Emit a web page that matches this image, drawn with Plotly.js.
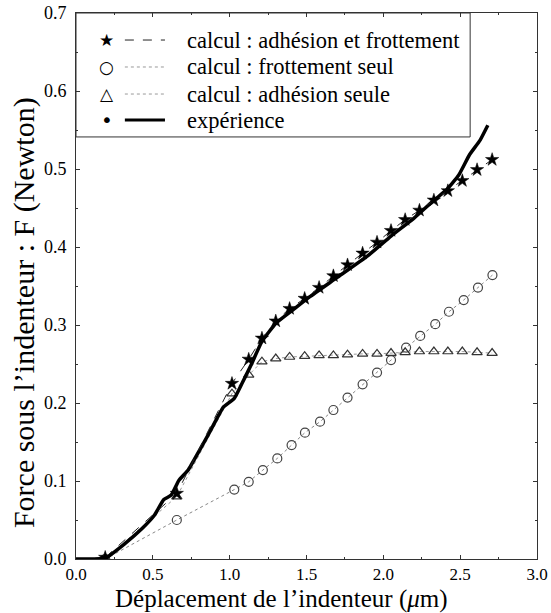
<!DOCTYPE html>
<html>
<head>
<meta charset="utf-8">
<script src="https://cdn.plot.ly/plotly-3.0.1.min.js"></script>
<style>html,body{margin:0;padding:0;background:#fff;}#chart{width:551px;height:613px;}</style>
</head>
<body>
<div id="chart"></div>
<script>
// calcul : adhésion et frottement (stars)
const starX = [0.19, 0.656, 1.015, 1.124, 1.21, 1.30, 1.39, 1.488, 1.582, 1.675, 1.767, 1.865, 1.959, 2.050, 2.142, 2.235, 2.329, 2.420, 2.514, 2.610, 2.708];
const starY = [0.002, 0.084, 0.225, 0.256, 0.283, 0.305, 0.321, 0.334, 0.348, 0.363, 0.377, 0.392, 0.406, 0.421, 0.435, 0.447, 0.460, 0.472, 0.485, 0.499, 0.512];
// calcul : frottement seul (circles)
const circX = [0.19, 0.656, 1.03, 1.124, 1.216, 1.31, 1.403, 1.49, 1.588, 1.675, 1.767, 1.865, 1.959, 2.05, 2.148, 2.24, 2.338, 2.427, 2.523, 2.616, 2.71];
const circY = [0.0, 0.050, 0.089, 0.099, 0.114, 0.129, 0.146, 0.162, 0.176, 0.191, 0.207, 0.224, 0.239, 0.255, 0.271, 0.286, 0.301, 0.317, 0.332, 0.348, 0.364];
// calcul : adhésion seule (triangles)
const triX = [0.19, 0.656, 1.015, 1.124, 1.21, 1.30, 1.39, 1.488, 1.582, 1.675, 1.767, 1.865, 1.959, 2.050, 2.142, 2.235, 2.329, 2.420, 2.514, 2.610, 2.708];
const triY = [0.0, 0.080, 0.212, 0.236, 0.253, 0.257, 0.259, 0.260, 0.261, 0.261, 0.262, 0.263, 0.263, 0.264, 0.265, 0.266, 0.266, 0.266, 0.266, 0.265, 0.264];
// expérience (thick solid curve)
const expX = [0, 0.19, 0.32, 0.43, 0.51, 0.57, 0.62, 0.67, 0.73, 0.80, 0.86, 0.93, 0.96, 1.03, 1.08, 1.14, 1.21, 1.30, 1.41, 1.52, 1.70, 1.90, 2.05, 2.20, 2.33, 2.41, 2.49, 2.56, 2.63, 2.68];
const expY = [0, 0.001, 0.020, 0.039, 0.056, 0.076, 0.082, 0.101, 0.114, 0.138, 0.159, 0.185, 0.195, 0.206, 0.225, 0.249, 0.279, 0.302, 0.319, 0.336, 0.361, 0.389, 0.414, 0.437, 0.460, 0.473, 0.492, 0.518, 0.537, 0.556];

const legendLabels = ["calcul : adhésion et frottement", "calcul : frottement seul", "calcul : adhésion seule", "expérience"];
const legendSymbols = ["★", "○", "△", "•"];
const xTitle = "Déplacement de l’indenteur (<i>μ</i>m)";
const yTitle = "Force sous l’indenteur : F (Newton)";

const FONT = "Liberation Serif, Times New Roman, serif";

const traces = [
  {x: circX, y: circY, mode: 'lines+markers', line: {color: '#888', width: 1, dash: 'dot'},
   marker: {symbol: 'circle-open', size: 9, color: '#444', line: {width: 1.2, color: '#444'}}},
  {x: triX, y: triY, mode: 'lines+markers', line: {color: '#999', width: 1, dash: 'dot'},
   marker: {symbol: 'triangle-up-open', size: 9, color: '#333', line: {width: 1.2, color: '#333'}}},
  {x: expX, y: expY, mode: 'lines', line: {color: '#000', width: 3.5, shape: 'spline', smoothing: 0.4}},
  {x: starX, y: starY, mode: 'lines+markers', line: {color: '#222', width: 1, dash: 'dash'},
   marker: {symbol: 'star', size: 10, color: '#000', line: {width: 0.5, color: '#000'}}}
];

const rowsY = [0.9505, 0.9011, 0.8516, 0.804];
const dashes = ['dash', 'dot', 'dot', 'solid'];
const widths = [1, 1, 1, 3];
const annotations = [];
const shapes = [];
for (let i = 0; i < 4; i++) {
  annotations.push({xref: 'paper', yref: 'paper', x: 0.0672, y: rowsY[i], text: legendSymbols[i], showarrow: false,
    xanchor: 'center', yanchor: 'middle', font: {family: 'DejaVu Sans', size: i === 3 ? 20 : 17, color: '#000'}});
  annotations.push({xref: 'paper', yref: 'paper', x: 0.236, y: rowsY[i], text: legendLabels[i], showarrow: false,
    xanchor: 'left', yanchor: 'middle', font: {family: FONT, size: 22.5, color: '#000'}});
  shapes.push({type: 'line', xref: 'paper', yref: 'paper', x0: 0.106, x1: 0.193, y0: rowsY[i], y1: rowsY[i],
    line: {color: i === 3 ? '#000' : (i === 0 ? '#222' : '#999'), width: widths[i], dash: dashes[i]}});
}
shapes.push({type: 'rect', xref: 'paper', yref: 'paper', x0: 0, x1: 0.855, y0: 0.773, y1: 1,
  line: {color: '#333', width: 1}, fillcolor: 'rgba(0,0,0,0)'});

// axis titles placed as in the reference (offset from plot centre)
annotations.push({xref: 'paper', yref: 'paper', x: 0.445, y: -0.1, text: xTitle, showarrow: false, borderpad: 0,
  xanchor: 'center', yanchor: 'bottom', font: {family: FONT, size: 25, color: '#000'}});
annotations.push({xref: 'paper', yref: 'paper', x: -0.113, y: 0.452, text: yTitle, showarrow: false, textangle: -90,
  xanchor: 'center', yanchor: 'middle', font: {family: FONT, size: 30, color: '#000'}});

const layout = {
  width: 551, height: 613,
  margin: {l: 76, r: 14, t: 13, b: 54},
  paper_bgcolor: '#fff', plot_bgcolor: '#fff',
  showlegend: false,
  font: {family: FONT, color: '#000'},
  xaxis: {range: [0, 3.0], dtick: 0.5, tickformat: '.1f', ticks: 'inside', ticklen: 4, tickcolor: '#333',
    showline: true, linecolor: '#333', linewidth: 1, mirror: 'ticks', showgrid: false, zeroline: false,
    ticklabelstandoff: 0,
    tickfont: {family: FONT, size: 17, color: '#000'},
    minor: {dtick: 0.25, ticks: 'inside', ticklen: 2, tickcolor: '#333'}},
  yaxis: {range: [0, 0.7], dtick: 0.1, tickformat: '.1f', ticks: 'inside', ticklen: 4, tickcolor: '#333',
    showline: true, linecolor: '#333', linewidth: 1, mirror: 'ticks', showgrid: false, zeroline: false,
    ticklabelstandoff: 5,
    tickfont: {family: FONT, size: 18, color: '#000'},
    minor: {dtick: 0.05, ticks: 'inside', ticklen: 2, tickcolor: '#333'}},
  annotations: annotations,
  shapes: shapes
};

Plotly.newPlot('chart', traces, layout, {displayModeBar: false, staticPlot: true});
</script>
</body>
</html>
